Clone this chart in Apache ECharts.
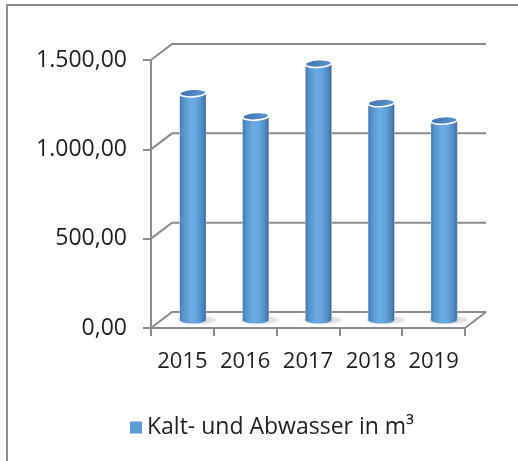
<!DOCTYPE html>
<html>
<head>
<meta charset="utf-8">
<script src="https://cdn.jsdelivr.net/npm/echarts@6/dist/echarts.min.js"></script>
<style>
html,body{margin:0;padding:0;background:#fff;}
#chart{width:518px;height:461px;}
</style>
</head>
<body>
<div id="chart"></div>
<script>
const categories = ['2015', '2016', '2017', '2018', '2019'];
const values = [1270, 1140, 1435, 1215, 1117];
const yTicks = [0, 500, 1000, 1500];
const seriesName = 'Kalt- und Abwasser in m³';

const DX = 21, DY = -16; // depth offset of the 3D back wall
const FONT = '"Open Sans", sans-serif';
const TXT = '#1f1f1f';
const LINE = '#8c8c8c';

function fmt(v) {
  const s = v.toFixed(2).split('.');
  return s[0].replace(/\B(?=(\d{3})+(?!\d))/g, '.') + ',' + s[1];
}

const chart = echarts.init(document.getElementById('chart'), null, {renderer: 'canvas'});

function renderFrame(params, api) {
  const cs = params.coordSys;
  const v = api.value(1);
  const y = api.coord([0, v])[1];
  const x0 = cs.x, x1 = cs.x + cs.width;
  const children = [{
    type: 'polyline',
    shape: {points: [[x0, y], [x0 + DX, y + DY], [x1 + DX, y + DY]]},
    style: {stroke: LINE, lineWidth: 2, fill: null}
  }];
  if (v === 0) {
    children.push({
      type: 'line',
      shape: {x1: x1, y1: y, x2: x1 + DX, y2: y + DY},
      style: {stroke: LINE, lineWidth: 2}
    });
  }
  return {type: 'group', children: children};
}

function renderBar(params, api) {
  const i = api.value(0);
  const v = api.value(1);
  const top = api.coord([i, v]);
  const base = api.coord([i, 0]);
  const band = api.size([1, 0])[0];
  const w = band * 0.42;
  const rx = w / 2, ry = 3.8;
  const cx = top[0] + DX / 2;
  const ty = top[1] + DY / 2;
  const by = base[1] + DY / 2;
  const l = cx - rx, r = cx + rx;
  const bodyGrad = new echarts.graphic.LinearGradient(0, 0, 1, 0, [
    {offset: 0, color: '#3d70a8'},
    {offset: 0.12, color: '#5290cc'},
    {offset: 0.42, color: '#6cabe3'},
    {offset: 0.62, color: '#66a5de'},
    {offset: 0.86, color: '#4f88c3'},
    {offset: 1, color: '#3a6699'}
  ]);
  const topGrad = new echarts.graphic.LinearGradient(0, 0, 1, 1, [
    {offset: 0, color: '#3c70ab'},
    {offset: 1, color: '#5e9ad6'}
  ]);
  return {
    type: 'group',
    children: [
      {
        type: 'ellipse',
        shape: {cx: cx + 4, cy: by, rx: rx + 6, ry: 4},
        style: {fill: 'rgba(190,190,190,0.35)', shadowBlur: 5, shadowColor: 'rgba(170,170,170,0.5)'}
      },
      {
        type: 'path',
        shape: {
          pathData: 'M' + l + ',' + ty + ' L' + l + ',' + by +
            ' A' + rx + ',' + ry + ' 0 0 0 ' + r + ',' + by +
            ' L' + r + ',' + ty + ' Z'
        },
        style: {fill: bodyGrad, stroke: 'rgba(255,255,255,0.6)', lineWidth: 0.6}
      },
      {
        type: 'ellipse',
        shape: {cx: cx, cy: ty, rx: rx, ry: ry},
        rotation: 0.06,
        originX: cx, originY: ty,
        style: {fill: topGrad, stroke: '#ffffff', lineWidth: 1.6}
      }
    ]
  };
}

const option = {
  backgroundColor: '#ffffff',
  animation: false,
  graphic: [{
    type: 'rect',
    shape: {x: 7, y: 5, width: 600, height: 600},
    style: {fill: null, stroke: '#8c8c8c', lineWidth: 2},
    silent: true
  }],
  grid: {left: 151, right: 53, top: 60, bottom: 133, containLabel: false},
  legend: {
    data: [seriesName],
    left: 125,
    top: 411,
    icon: 'rect',
    itemWidth: 12,
    itemHeight: 12,
    itemGap: 8,
    textStyle: {fontFamily: FONT, fontSize: 23, color: TXT}
  },
  xAxis: {
    type: 'category',
    data: categories,
    boundaryGap: true,
    axisLine: {lineStyle: {color: LINE, width: 2}},
    axisTick: {show: true, length: 8, lineStyle: {color: LINE, width: 2}},
    axisLabel: {fontFamily: FONT, fontSize: 22, color: TXT, margin: 23, interval: 0, hideOverlap: false},
    splitLine: {show: false}
  },
  yAxis: {
    type: 'value',
    min: 0,
    max: 1500,
    interval: 500,
    axisLine: {show: true, lineStyle: {color: LINE, width: 2}},
    axisTick: {show: true, length: 8, lineStyle: {color: LINE, width: 2}},
    axisLabel: {fontFamily: FONT, fontSize: 23, color: TXT, margin: 24, formatter: fmt},
    splitLine: {show: false}
  },
  series: [
    {
      name: 'frame',
      type: 'custom',
      silent: true,
      renderItem: renderFrame,
      encode: {x: 0, y: 1},
      data: yTicks.map(v => [0, v]),
      z: 1
    },
    {
      name: seriesName,
      type: 'custom',
      renderItem: renderBar,
      encode: {x: 0, y: 1},
      itemStyle: {color: '#5b9bd5'},
      data: categories.map((c, i) => [i, values[i]]),
      z: 3
    }
  ]
};
chart.setOption(option);
</script>
</body>
</html>
